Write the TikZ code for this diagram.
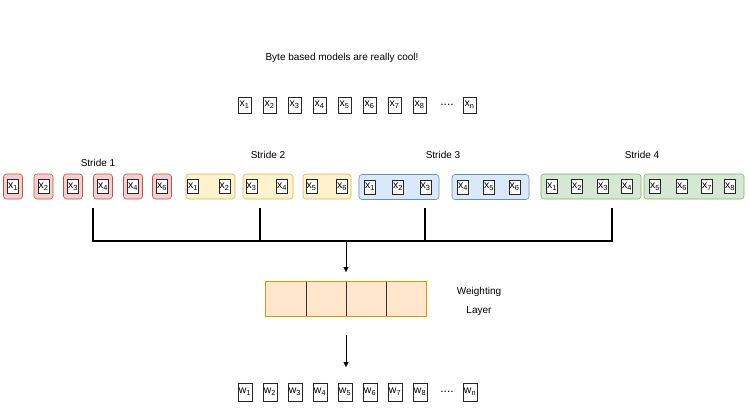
\documentclass[tikz,border=0pt]{standalone}
\usepackage{fontspec}
\setmainfont{Liberation Sans}
\usetikzlibrary{arrows.meta}

\definecolor{redfill}{HTML}{F8CECC}
\definecolor{redline}{HTML}{B85450}
\definecolor{yelfill}{HTML}{FFF2CC}
\definecolor{yelline}{HTML}{D6B656}
\definecolor{bluefill}{HTML}{DAE8FC}
\definecolor{blueline}{HTML}{6C8EBF}
\definecolor{grnfill}{HTML}{D5E8D4}
\definecolor{grnline}{HTML}{82B366}
\definecolor{orgfill}{HTML}{FFE6CC}
\definecolor{orgline}{HTML}{D79B00}

\tikzset{
  tok/.style={draw=black!85,fill=white,inner sep=0pt,minimum width=13pt,minimum height=16pt,font=\fontsize{10.5}{11}\selectfont},
  wtok/.style={tok,minimum width=14pt,minimum height=18pt},
  stok/.style={tok,minimum width=11pt,minimum height=14pt},
  grp/.style={rounded corners=3pt,inner sep=0pt,minimum height=25pt,line width=0.6pt},
  wcell/.style={fill=orgfill,inner sep=0pt,minimum width=40pt,minimum height=34pt},
  lbl/.style={font=\fontsize{10}{12}\selectfont},
  dots/.style={font=\fontsize{12}{12}\selectfont}
}

\begin{document}
\begin{tikzpicture}[x=1pt,y=-1pt]
\useasboundingbox (0,0) rectangle (750,415);

\node[lbl] (title) at (342,58) {Byte based models are really cool!};

% input bytes
\foreach \i in {1,...,8}
  \node[tok] (x\i) at ({244.5+25*(\i-1)},105) {x\textsubscript{\i}};
\node[dots] (xdots) at (447,105) {....};
\node[tok] (xn) at (469.5,105) {x\textsubscript{n}};

% stride labels
\node[lbl] (st1) at (98,163) {Stride 1};
\node[lbl] (st2) at (268,155) {Stride 2};
\node[lbl] (st3) at (443,155) {Stride 3};
\node[lbl] (st4) at (642,155) {Stride 4};

% stride 1
\foreach \c/\t [count=\k] in {13/1,43.5/2,73/3,103/4,133/4,162/6}{
  \node[grp,draw=redline,fill=redfill,minimum width=19pt] (sa\k) at (\c,186.5) {};
  \node[stok] (ta\k) at (\c,186.5) {x\textsubscript{\t}};
}

% stride 2
\foreach \c/\w [count=\k] in {210.5/49,268/50,327/48}
  \node[grp,draw=yelline,fill=yelfill,minimum width=\w pt] (sb\k) at (\c,186.5) {};
\foreach \c [count=\k] in {193,224.5,251.5,282,311.5,342}
  \node[stok] (tb\k) at (\c,186.5) {x\textsubscript{\k}};

% stride 3
\foreach \c/\w [count=\k] in {399/80,490.5/77}
  \node[grp,draw=blueline,fill=bluefill,minimum width=\w pt] (sc\k) at (\c,187) {};
\foreach \c [count=\k] in {370,398,425.5,463,489,514.5}
  \node[stok] (tc\k) at (\c,187) {x\textsubscript{\k}};

% stride 4
\foreach \c [count=\k] in {591,694}
  \node[grp,draw=grnline,fill=grnfill,minimum width=100pt] (sd\k) at (\c,186.5) {};
\foreach \c [count=\k] in {552,577,603,627,655,682,707,730}
  \node[stok] (td\k) at (\c,186.5) {x\textsubscript{\k}};

% merge bracket
\coordinate (b1) at (93,208);
\coordinate (b2) at (260,208);
\coordinate (b3) at (425,208);
\coordinate (b4) at (612,208);
\coordinate (bm) at (346,241);
\coordinate (bt) at (346,272);
\draw[line width=1.2pt] (b1) |- (b4 |- bm) -- (b4);
\draw[line width=1.2pt] (b2) -- (b2 |- bm);
\draw[line width=1.2pt] (b3) -- (b3 |- bm);
\draw[-{Triangle[width=5pt,length=5pt]}] (bm) -- (bt);

% weighting layer
\foreach \c [count=\k] in {286,326,366,406}
  \node[wcell] (wl\k) at (\c,299) {};
\draw[orgline,line width=0.8pt] (wl1.north west) rectangle (wl4.south east);
\foreach \k in {1,2,3}
  \draw[black!80,line width=0.8pt] (wl\k.north east) -- (wl\k.south east);
\node[lbl,align=center,font=\fontsize{10}{19}\selectfont] (wlabel) at (479,301) {Weighting\\Layer};

\coordinate (ws) at (346,335);
\coordinate (wt) at (346,367);
\draw[-{Triangle[width=5pt,length=5pt]}] (ws) -- (wt);

% weighted outputs
\foreach \i in {1,...,8}
  \node[wtok] (w\i) at ({245+25*(\i-1)},392) {w\textsubscript{\i}};
\node[dots] (wdots) at (447,392) {....};
\node[wtok] (wn) at (470,392) {w\textsubscript{n}};
\end{tikzpicture}
\end{document}
